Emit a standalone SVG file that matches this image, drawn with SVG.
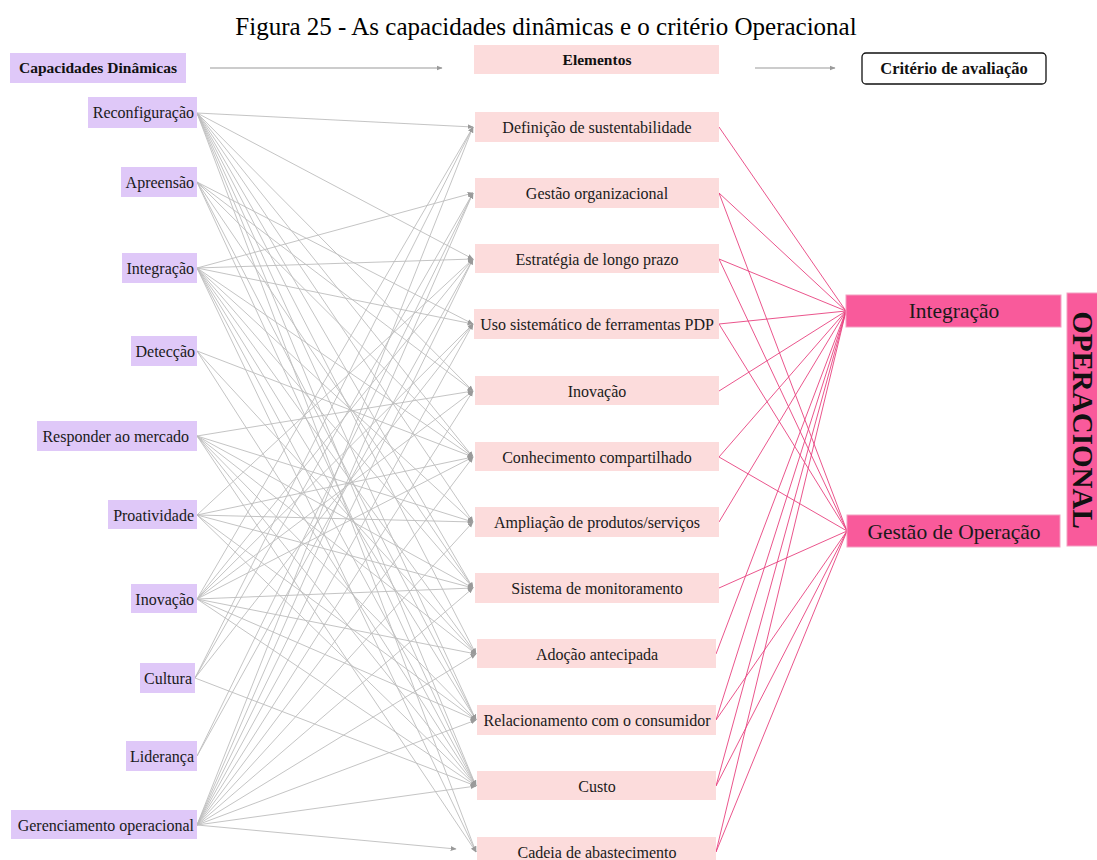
<svg xmlns="http://www.w3.org/2000/svg" width="1097" height="860" viewBox="0 0 1097 860">
  <defs>
    <marker id="arr" viewBox="0 0 10 10" refX="9" refY="5" markerWidth="6" markerHeight="6" markerUnits="userSpaceOnUse" orient="auto">
      <path d="M0,1 L10,5 L0,9 z" fill="#9a9a9a"/>
    </marker>
    <style>
      .title { font-family: "Liberation Serif", "Times New Roman", serif; font-size: 25px; fill: #000; }
      .cap rect { fill: #dfc8f8; }
      .el rect { fill: #fcdcdc; }
      .crit rect { fill: #f95a9b; stroke: #f3a0c2; stroke-width: 1; }
      .lbl { font-family: "Liberation Serif", "Times New Roman", serif; font-size: 16px; fill: #1a1a1a; }
      .hdr { font-family: "Liberation Serif", "Times New Roman", serif; font-size: 15.5px; font-weight: bold; fill: #111; }
      .big { font-family: "Liberation Serif", "Times New Roman", serif; font-size: 21.5px; fill: #1a1a1a; }
      .gray line { stroke: #bdbdbd; stroke-width: 0.9; marker-end: url(#arr); }
      .pink line { stroke: #e8427f; stroke-width: 0.9; }
      .hdrarrow { stroke: #9a9a9a; stroke-width: 1.2; marker-end: url(#arr); }
    </style>
  </defs>

  <rect width="1097" height="860" fill="#ffffff"/>

  <text class="title" x="546" y="35" text-anchor="middle">Figura 25 - As capacidades dinâmicas e o critério Operacional</text>

  <!-- column headers -->
  <g id="hdr-capacidades" class="cap">
    <rect x="10" y="53" width="176" height="30"/>
    <text class="hdr" x="98" y="73" text-anchor="middle">Capacidades Dinâmicas</text>
  </g>
  <g id="hdr-elementos" class="el">
    <rect x="474" y="45" width="245" height="29"/>
    <text class="hdr" x="597" y="65" text-anchor="middle">Elementos</text>
  </g>
  <g id="hdr-criterio">
    <rect x="862" y="53" width="184" height="31" rx="4" fill="#ffffff" stroke="#111" stroke-width="1.3"/>
    <text class="hdr" x="954" y="74" text-anchor="middle" style="font-size:16.5px">Critério de avaliação</text>
  </g>
  <g id="hdr-arrows">
    <line class="hdrarrow" x1="210" y1="68" x2="442" y2="68"/>
    <line class="hdrarrow" x1="755" y1="68" x2="835" y2="68"/>
  </g>

  <!-- connectors: capabilities to elements (gray), elements to criteria (pink) -->
  <g id="connectors">
    <g class="gray">
      <!-- Reconfiguração -->
      <line x1="197" y1="113" x2="473" y2="127"/>
      <line x1="197" y1="113" x2="473" y2="259"/>
      <line x1="197" y1="113" x2="473" y2="391"/>
      <line x1="197" y1="113" x2="473" y2="457"/>
      <line x1="197" y1="113" x2="473" y2="522"/>
      <line x1="197" y1="113" x2="473" y2="588"/>
      <line x1="197" y1="113" x2="476" y2="654"/>
      <line x1="197" y1="113" x2="476" y2="720"/>
      <line x1="197" y1="113" x2="476" y2="786"/>
      <line x1="197" y1="113" x2="476" y2="852"/>
      <!-- Apreensão -->
      <line x1="197" y1="182" x2="473" y2="324"/>
      <line x1="197" y1="182" x2="473" y2="391"/>
      <line x1="197" y1="182" x2="473" y2="457"/>
      <line x1="197" y1="182" x2="473" y2="588"/>
      <line x1="197" y1="182" x2="476" y2="720"/>
      <line x1="197" y1="182" x2="476" y2="786"/>
      <!-- Integração -->
      <line x1="197" y1="268" x2="473" y2="193"/>
      <line x1="197" y1="268" x2="473" y2="259"/>
      <line x1="197" y1="268" x2="473" y2="324"/>
      <line x1="197" y1="268" x2="473" y2="457"/>
      <line x1="197" y1="268" x2="473" y2="522"/>
      <line x1="197" y1="268" x2="473" y2="588"/>
      <line x1="197" y1="268" x2="476" y2="654"/>
      <line x1="197" y1="268" x2="476" y2="720"/>
      <line x1="197" y1="268" x2="476" y2="786"/>
      <line x1="197" y1="268" x2="476" y2="852"/>
      <!-- Detecção -->
      <line x1="197" y1="351" x2="473" y2="457"/>
      <line x1="197" y1="351" x2="476" y2="654"/>
      <line x1="197" y1="351" x2="476" y2="786"/>
      <!-- Responder ao mercado -->
      <line x1="197" y1="436" x2="473" y2="391"/>
      <line x1="197" y1="436" x2="473" y2="522"/>
      <line x1="197" y1="436" x2="473" y2="588"/>
      <line x1="197" y1="436" x2="476" y2="654"/>
      <line x1="197" y1="436" x2="476" y2="720"/>
      <line x1="197" y1="436" x2="476" y2="786"/>
      <line x1="197" y1="436" x2="476" y2="852"/>
      <!-- Proatividade -->
      <line x1="197" y1="515" x2="473" y2="259"/>
      <line x1="197" y1="515" x2="473" y2="457"/>
      <line x1="197" y1="515" x2="473" y2="522"/>
      <line x1="197" y1="515" x2="473" y2="588"/>
      <line x1="197" y1="515" x2="476" y2="720"/>
      <line x1="197" y1="515" x2="476" y2="786"/>
      <!-- Inovação -->
      <line x1="197" y1="599" x2="473" y2="127"/>
      <line x1="197" y1="599" x2="473" y2="259"/>
      <line x1="197" y1="599" x2="473" y2="324"/>
      <line x1="197" y1="599" x2="473" y2="391"/>
      <line x1="197" y1="599" x2="473" y2="457"/>
      <line x1="197" y1="599" x2="473" y2="588"/>
      <line x1="197" y1="599" x2="476" y2="654"/>
      <line x1="197" y1="599" x2="476" y2="720"/>
      <line x1="197" y1="599" x2="476" y2="786"/>
      <!-- Cultura -->
      <line x1="195" y1="678" x2="473" y2="127"/>
      <line x1="195" y1="678" x2="473" y2="193"/>
      <line x1="195" y1="678" x2="473" y2="324"/>
      <line x1="195" y1="678" x2="476" y2="786"/>
      <!-- Liderança -->
      <line x1="197" y1="756" x2="473" y2="193"/>
      <line x1="197" y1="756" x2="473" y2="259"/>
      <!-- Gerenciamento operacional -->
      <line x1="197" y1="825" x2="473" y2="127"/>
      <line x1="197" y1="825" x2="473" y2="193"/>
      <line x1="197" y1="825" x2="473" y2="259"/>
      <line x1="197" y1="825" x2="473" y2="324"/>
      <line x1="197" y1="825" x2="473" y2="391"/>
      <line x1="197" y1="825" x2="473" y2="457"/>
      <line x1="197" y1="825" x2="473" y2="522"/>
      <line x1="197" y1="825" x2="473" y2="588"/>
      <line x1="197" y1="825" x2="476" y2="654"/>
      <line x1="197" y1="825" x2="476" y2="720"/>
      <line x1="197" y1="825" x2="476" y2="786"/>
      <line x1="197" y1="825" x2="456" y2="849"/>
    </g>
    <g class="pink">
      <!-- to Integração -->
      <line x1="719" y1="127" x2="846" y2="311"/>
      <line x1="719" y1="193" x2="846" y2="311"/>
      <line x1="719" y1="259" x2="846" y2="311"/>
      <line x1="719" y1="324" x2="846" y2="311"/>
      <line x1="719" y1="391" x2="846" y2="311"/>
      <line x1="719" y1="457" x2="846" y2="311"/>
      <line x1="719" y1="522" x2="846" y2="311"/>
      <line x1="716" y1="654" x2="846" y2="311"/>
      <line x1="716" y1="720" x2="846" y2="311"/>
      <line x1="716" y1="786" x2="846" y2="311"/>
      <line x1="716" y1="852" x2="846" y2="311"/>
      <!-- to Gestão de Operação -->
      <line x1="719" y1="193" x2="847" y2="531"/>
      <line x1="719" y1="259" x2="847" y2="531"/>
      <line x1="719" y1="324" x2="847" y2="531"/>
      <line x1="719" y1="457" x2="847" y2="531"/>
      <line x1="719" y1="588" x2="847" y2="531"/>
      <line x1="716" y1="720" x2="847" y2="531"/>
      <line x1="716" y1="786" x2="847" y2="531"/>
      <line x1="716" y1="852" x2="847" y2="531"/>
    </g>
  </g>

  <!-- dynamic capabilities -->
  <g id="cap-reconfiguracao" class="cap">
    <rect x="88" y="97" width="109" height="31"/>
    <text class="lbl" x="194" y="118" text-anchor="end">Reconfiguração</text>
  </g>
  <g id="cap-apreensao" class="cap">
    <rect x="121" y="167" width="76" height="30"/>
    <text class="lbl" x="194" y="188" text-anchor="end">Apreensão</text>
  </g>
  <g id="cap-integracao" class="cap">
    <rect x="122" y="253" width="75" height="30"/>
    <text class="lbl" x="194" y="274" text-anchor="end">Integração</text>
  </g>
  <g id="cap-deteccao" class="cap">
    <rect x="131" y="336" width="66" height="30"/>
    <text class="lbl" x="195" y="357" text-anchor="end">Detecção</text>
  </g>
  <g id="cap-responder" class="cap">
    <rect x="37" y="421" width="160" height="30"/>
    <text class="lbl" x="189" y="442" text-anchor="end">Responder ao mercado</text>
  </g>
  <g id="cap-proatividade" class="cap">
    <rect x="108" y="500" width="89" height="29"/>
    <text class="lbl" x="194" y="521" text-anchor="end">Proatividade</text>
  </g>
  <g id="cap-inovacao" class="cap">
    <rect x="131" y="584" width="66" height="29"/>
    <text class="lbl" x="194" y="605" text-anchor="end">Inovação</text>
  </g>
  <g id="cap-cultura" class="cap">
    <rect x="140" y="663" width="55" height="30"/>
    <text class="lbl" x="192" y="684" text-anchor="end">Cultura</text>
  </g>
  <g id="cap-lideranca" class="cap">
    <rect x="126" y="741" width="71" height="30"/>
    <text class="lbl" x="194" y="762" text-anchor="end">Liderança</text>
  </g>
  <g id="cap-gerenciamento" class="cap">
    <rect x="11" y="810" width="186" height="29"/>
    <text class="lbl" x="194" y="831" text-anchor="end">Gerenciamento operacional</text>
  </g>

  <!-- elements -->
  <g id="el-definicao" class="el">
    <rect x="475" y="112" width="244" height="30"/>
    <text class="lbl" x="597" y="133" text-anchor="middle">Definição de sustentabilidade</text>
  </g>
  <g id="el-gestao-org" class="el">
    <rect x="475" y="178" width="244" height="30"/>
    <text class="lbl" x="597" y="199" text-anchor="middle">Gestão organizacional</text>
  </g>
  <g id="el-estrategia" class="el">
    <rect x="475" y="244" width="244" height="29"/>
    <text class="lbl" x="597" y="265" text-anchor="middle">Estratégia de longo prazo</text>
  </g>
  <g id="el-uso-pdp" class="el">
    <rect x="474" y="309" width="245" height="30"/>
    <text class="lbl" x="597" y="330" text-anchor="middle">Uso sistemático de ferramentas PDP</text>
  </g>
  <g id="el-inovacao" class="el">
    <rect x="475" y="376" width="244" height="29"/>
    <text class="lbl" x="597" y="397" text-anchor="middle">Inovação</text>
  </g>
  <g id="el-conhecimento" class="el">
    <rect x="475" y="442" width="244" height="29"/>
    <text class="lbl" x="597" y="463" text-anchor="middle">Conhecimento compartilhado</text>
  </g>
  <g id="el-ampliacao" class="el">
    <rect x="475" y="507" width="244" height="30"/>
    <text class="lbl" x="597" y="528" text-anchor="middle">Ampliação de produtos/serviços</text>
  </g>
  <g id="el-monitoramento" class="el">
    <rect x="475" y="573" width="244" height="30"/>
    <text class="lbl" x="597" y="594" text-anchor="middle">Sistema de monitoramento</text>
  </g>
  <g id="el-adocao" class="el">
    <rect x="477" y="639" width="239" height="29"/>
    <text class="lbl" x="597" y="660" text-anchor="middle">Adoção antecipada</text>
  </g>
  <g id="el-relacionamento" class="el">
    <rect x="477" y="705" width="239" height="30"/>
    <text class="lbl" x="597" y="726" text-anchor="middle">Relacionamento com o consumidor</text>
  </g>
  <g id="el-custo" class="el">
    <rect x="477" y="771" width="239" height="29"/>
    <text class="lbl" x="597" y="792" text-anchor="middle">Custo</text>
  </g>
  <g id="el-cadeia" class="el">
    <rect x="477" y="837" width="239" height="30"/>
    <text class="lbl" x="597" y="858" text-anchor="middle">Cadeia de abastecimento</text>
  </g>

  <!-- evaluation criteria -->
  <g id="crit-integracao" class="crit">
    <rect x="846" y="295" width="215" height="32"/>
    <text class="big" x="954" y="318" text-anchor="middle">Integração</text>
  </g>
  <g id="crit-gestao-operacao" class="crit">
    <rect x="847" y="515" width="213" height="32"/>
    <text class="big" x="954" y="539" text-anchor="middle">Gestão de Operação</text>
  </g>
  <g id="crit-operacional" class="crit">
    <rect x="1067" y="293" width="34" height="253"/>
    <text x="1083" y="420" transform="rotate(90 1083 420)" text-anchor="middle" dominant-baseline="central" font-family="Liberation Serif, Times New Roman, serif" font-size="29" font-weight="bold" fill="#111">OPERACIONAL</text>
  </g>
</svg>
